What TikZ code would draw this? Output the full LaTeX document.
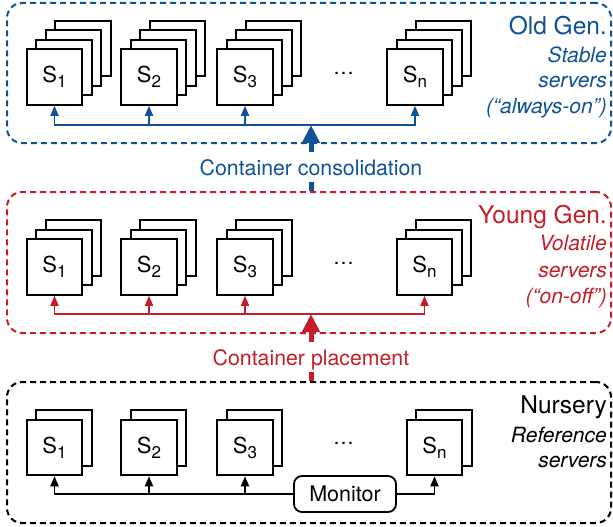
\documentclass[tikz,border=0pt]{standalone}
\usepackage{fontspec}
\setmainfont{TeX Gyre Heros}
\usetikzlibrary{arrows.meta}
\definecolor{oldblue}{RGB}{15,82,150}
\definecolor{youngred}{RGB}{198,30,40}
\newcommand{\subidx}[1]{\raisebox{-5pt}{\fontsize{17}{17}\selectfont #1}}
\newcommand{\srvstack}[5]{%
  \foreach \k in {#4,...,1}{%
    \node[srv] (#1b\k) at ({#2+\k*9.5},{#3-\k*9.5}) {};
  }%
  \node[srv] (#1) at (#2,#3) {#5};%
}
\begin{document}
\begin{tikzpicture}[x=1pt,y=-1pt,
  srv/.style={draw, line width=2pt, fill=white, minimum width=55.5pt, minimum height=55.5pt, inner sep=0pt, font=\fontsize{22}{22}\selectfont},
  genbox/.style={draw, line width=2pt, dash pattern=on 6pt off 4pt, rounded corners=15pt, minimum width=604pt, inner sep=0pt},
  conn/.style={line width=1.8pt, -{Triangle[length=10pt,width=8pt]}},
  bigarrow/.style={line width=5pt, -{Triangle[length=18pt,width=17pt]}},
  bigstub/.style={line width=5pt},
  flow/.style={font=\fontsize{21.3}{21.3}\selectfont, text height=16pt, text depth=0pt, inner xsep=2pt, inner ysep=7pt, anchor=base},
  gen/.style={font=\fontsize{24.5}{24.5}\selectfont, anchor=base east, inner sep=0pt},
  desc/.style={font=\itshape\fontsize{21}{21}\selectfont, anchor=base east, inner sep=0pt},
  dotsnode/.style={font=\fontsize{21}{21}\selectfont, inner sep=0pt},
  monbox/.style={draw, line width=1.8pt, rounded corners=8pt, minimum width=102pt, minimum height=36pt, inner sep=0pt, font=\fontsize{21.5}{21.5}\selectfont}
]
\useasboundingbox (0,0) rectangle (613,527);

% generation boxes
\node[genbox, draw=oldblue, minimum height=140pt] (obox) at (309,73) {};
\node[genbox, draw=youngred, minimum height=141pt] (ybox) at (309,262.5) {};
\node[genbox, draw=black, minimum height=141pt] (nbox) at (309,452.5) {};

% old generation
\srvstack{o1}{54.5}{77}{3}{S\subidx{1}}
\srvstack{o2}{149}{77}{3}{S\subidx{2}}
\srvstack{o3}{245}{77}{3}{S\subidx{3}}
\srvstack{on}{415}{77}{3}{S\subidx{n}}
\node[dotsnode] (odots) at (343.5,73) {…};

% young generation
\srvstack{y1}{54.5}{267}{2}{S\subidx{1}}
\srvstack{y2}{149}{267}{2}{S\subidx{2}}
\srvstack{y3}{245}{267}{2}{S\subidx{3}}
\srvstack{yn}{424.5}{267}{2}{S\subidx{n}}
\node[dotsnode] (ydots) at (343.5,263) {…};

% nursery
\srvstack{n1}{54.5}{447.5}{1}{S\subidx{1}}
\srvstack{n2}{149}{447.5}{1}{S\subidx{2}}
\srvstack{n3}{245}{447.5}{1}{S\subidx{3}}
\srvstack{nn}{434.5}{447.5}{1}{S\subidx{n}}
\node[dotsnode] (ndots) at (343.5,443.5) {…};

% old connectors
\coordinate (oj) at (311,125);
\draw[conn, oldblue] (oj) -| (o1.south);
\draw[conn, oldblue] (oj) -| (on.south);
\draw[conn, oldblue] (o2.south |- oj) -- (o2.south);
\draw[conn, oldblue] (o3.south |- oj) -- (o3.south);

% young connectors
\coordinate (yj) at (311,314);
\draw[conn, youngred] (yj) -| (y1.south);
\draw[conn, youngred] (yj) -| (yn.south);
\draw[conn, youngred] (y2.south |- yj) -- (y2.south);
\draw[conn, youngred] (y3.south |- yj) -- (y3.south);

% nursery connectors
\node[monbox] (mon) at (345,494) {Monitor};
\draw[conn] (mon.west) -| (n1.south);
\draw[conn] (mon.east) -| (nn.south);
\draw[conn] (n2.south |- mon.west) -- (n2.south);
\draw[conn] (n3.south |- mon.west) -- (n3.south);

% flows between generations
\node[flow, text=oldblue] (cc) at (311,175) {Container consolidation};
\draw[bigarrow, oldblue] (cc.north) -- (oj);
\draw[bigstub, oldblue] (ybox.north -| cc) -- (cc.south);

\node[flow, text=youngred] (cp) at (311,365) {Container placement};
\draw[bigarrow, youngred] (cp.north) -- (yj);
\draw[bigstub, youngred] (nbox.north -| cp) -- (cp.south);

% generation labels
\node[gen, text=oldblue] (ogen) at (607,35) {Old Gen.};
\node[desc, text=oldblue] (od1) at (607,63) {Stable};
\node[desc, text=oldblue] (od2) at (607,88) {servers};
\node[desc, text=oldblue] (od3) at (607,113) {(“always-on”)};

\node[gen, text=youngred] (ygen) at (607,223) {Young Gen.};
\node[desc, text=youngred] (yd1) at (607,250) {Volatile};
\node[desc, text=youngred] (yd2) at (607,277) {servers};
\node[desc, text=youngred] (yd3) at (607,303) {(“on-off”)};

\node[gen, text=black] (ngen) at (607,413) {Nursery};
\node[desc, text=black] (nd1) at (607,442) {Reference};
\node[desc, text=black] (nd2) at (607,467) {servers};
\end{tikzpicture}
\end{document}
